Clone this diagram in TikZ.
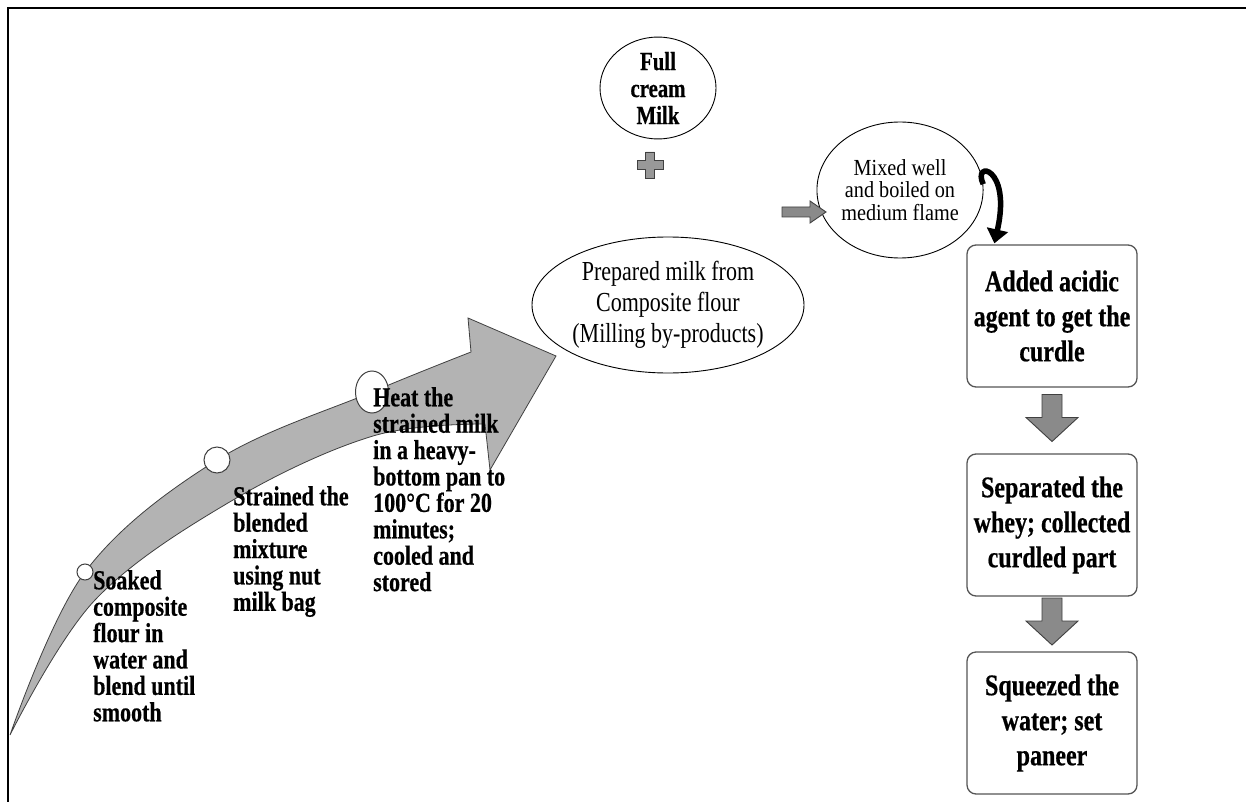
\documentclass[tikz,border=0pt]{standalone}
\usepackage{fontspec}
\setmainfont{Liberation Serif}
\newfontfamily\condf[FakeStretch=0.88]{Liberation Serif}
\newfontfamily\condg[FakeStretch=0.8, BoldFeatures={FakeBold=0.5}]{Liberation Serif}
\usetikzlibrary{shapes.geometric,arrows.meta,calc}
\definecolor{agray}{HTML}{B3B3B3}
\definecolor{aline}{HTML}{404040}
\definecolor{bgray}{HTML}{8A8A8A}
\definecolor{boxline}{HTML}{555555}
\begin{document}
\begin{tikzpicture}[x=1pt,y=-1pt,
  steptext/.style={inner sep=0pt, align=left, anchor=north west, font=\condg\bfseries\fontsize{27.5}{26.4}\selectfont},
  stepbox/.style={rectangle, rounded corners=9pt, draw=boxline, line width=1.3pt, minimum width=170pt, minimum height=142pt, inner sep=2pt, align=center, font=\condg\bfseries\fontsize{30}{35}\selectfont},
  oval/.style={ellipse, draw=black, line width=0.9pt, inner sep=0pt, align=center},
  dotc/.style={circle, draw=aline, fill=white, line width=1pt, inner sep=0pt},
  blockarr/.style={fill=bgray, draw=aline, line width=0.9pt, line join=miter},
  curv/.style={line width=5.5pt, -{Triangle[width=21pt,length=14pt]}}
]
\useasboundingbox (0,0) rectangle (1246,802);
\fill[white] (0,0) rectangle (1246,802);
% frame
\draw[line width=2pt] (8,802) -- (8,8) -- (1246,8);

% big curved arrow
\filldraw[fill=agray, draw=aline, line width=0.8pt, line join=miter]
  plot[smooth, tension=0.6] coordinates {(10,735) (85,572) (217,460) (372,392) (471,352)}
  -- (468,318) -- (556,356) -- (490,470) -- (485,424)
  -- plot[smooth, tension=0.6] coordinates {(485,424) (373,436) (233,500) (95,600) (10,735)} -- cycle;

\node[dotc, minimum size=16pt] (c1) at (85,572) {};
\node[dotc, minimum size=26pt] (c2) at (217,460) {};
\node[dotc, ellipse, minimum width=33pt, minimum height=42pt] (c3) at (372,392) {};

\node[steptext] (t1) at (93,570) {Soaked\\composite\\flour in\\water and\\blend until\\smooth};
\node[steptext] (t2) at (233,486) {Strained the\\blended\\mixture\\using nut\\milk bag};
\node[steptext] (t3) at (373,387) {Heat the\\strained milk\\in a heavy-\\bottom pan to\\100°C for 20\\minutes;\\cooled and\\stored};

% ovals
\node[oval, minimum width=116pt, minimum height=92pt, font=\condg\bfseries\fontsize{26}{27}\selectfont] (fcm) at (658,88) {Full\\cream\\Milk};
\node[oval, minimum width=272pt, minimum height=136pt, font=\condg\fontsize{27.5}{31}\selectfont] (prep) at (668,305) {Prepared milk from\\Composite flour\\(Milling by-products)};
\node[oval, minimum width=136pt, minimum height=136pt, font=\condf\fontsize{23}{22.5}\selectfont] (mix) at (900,190) {Mixed well\\and boiled on\\medium flame};

% plus sign
\coordinate (pl) at (650,165);
\filldraw[fill=agray!85!black, draw=aline, line width=0.9pt, shift={(pl)}]
  (-4.5,-13) -- (4.5,-13) -- (4.5,-4.5) -- (13,-4.5) -- (13,4.5) -- (4.5,4.5) -- (4.5,13)
  -- (-4.5,13) -- (-4.5,4.5) -- (-13,4.5) -- (-13,-4.5) -- (-4.5,-4.5) -- cycle;

% small right arrow
\coordinate (ra) at (804,212);
\draw[blockarr, shift={(ra)}] (-22,-5) -- (6,-5) -- (6,-11) -- (22,0) -- (6,11) -- (6,5) -- (-22,5) -- cycle;

% boxes
\node[stepbox] (b1) at (1052,316) {Added acidic\\agent to get the\\curdle};
\node[stepbox] (b2) at (1052,525) {Separated the\\whey; collected\\curdled part};
\node[stepbox] (b3) at (1052,723) {Squeezed the\\water; set\\paneer};

% curved black arrow
\coordinate (ctip) at ($(b1.north west)+(28,-1)$);
\draw[curv] (mix.4) .. controls (972,160) and (1012,166) .. (ctip);

% down block arrows
\coordinate (a1) at ($(b1.south)!0.5!(b2.north)$);
\coordinate (a2) at ($(b2.south)!0.5!(b3.north)$);
\foreach \c in {a1,a2}{
  \draw[blockarr, shift={(\c)}] (-10,-26) -- (10,-26) -- (10,-3) -- (26,-3) -- (0,21) -- (-26,-3) -- (-10,-3) -- cycle;
}
\end{tikzpicture}
\end{document}
